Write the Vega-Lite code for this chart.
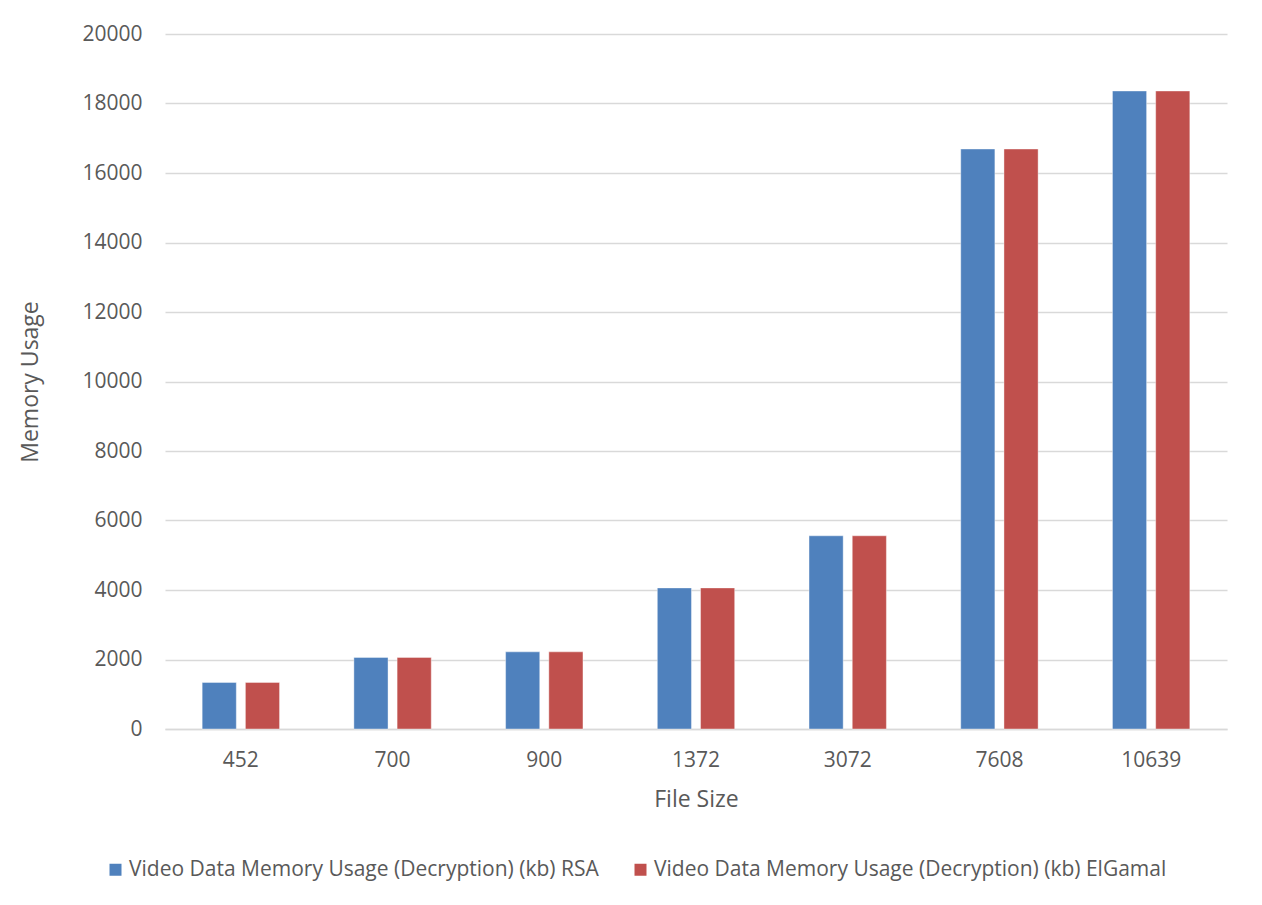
{
  "$schema": "https://vega.github.io/schema/vega-lite/v6.json",
  "width": 1062,
  "height": 695,
  "autosize": {"type": "none"},
  "padding": {"left": 165, "top": 34, "right": 35, "bottom": 176},
  "background": "white",
  "data": {
    "values": [
      {"size": "452", "series": "Video Data Memory Usage (Decryption) (kb) RSA", "memory": 1340},
      {"size": "452", "series": "Video Data Memory Usage (Decryption) (kb) ElGamal", "memory": 1340},
      {"size": "700", "series": "Video Data Memory Usage (Decryption) (kb) RSA", "memory": 2060},
      {"size": "700", "series": "Video Data Memory Usage (Decryption) (kb) ElGamal", "memory": 2060},
      {"size": "900", "series": "Video Data Memory Usage (Decryption) (kb) RSA", "memory": 2220},
      {"size": "900", "series": "Video Data Memory Usage (Decryption) (kb) ElGamal", "memory": 2220},
      {"size": "1372", "series": "Video Data Memory Usage (Decryption) (kb) RSA", "memory": 4060},
      {"size": "1372", "series": "Video Data Memory Usage (Decryption) (kb) ElGamal", "memory": 4060},
      {"size": "3072", "series": "Video Data Memory Usage (Decryption) (kb) RSA", "memory": 5560},
      {"size": "3072", "series": "Video Data Memory Usage (Decryption) (kb) ElGamal", "memory": 5560},
      {"size": "7608", "series": "Video Data Memory Usage (Decryption) (kb) RSA", "memory": 16690},
      {"size": "7608", "series": "Video Data Memory Usage (Decryption) (kb) ElGamal", "memory": 16690},
      {"size": "10639", "series": "Video Data Memory Usage (Decryption) (kb) RSA", "memory": 18360},
      {"size": "10639", "series": "Video Data Memory Usage (Decryption) (kb) ElGamal", "memory": 18360}
    ]
  },
  "mark": {"type": "bar", "stroke": "white", "strokeWidth": 0.8, "strokeOpacity": 0.5},
  "encoding": {
    "x": {
      "field": "size",
      "type": "nominal",
      "sort": null,
      "title": "File Size",
      "scale": {"paddingInner": 0.49, "paddingOuter": 0.245},
      "axis": {
        "labelAngle": 0,
        "ticks": false,
        "domainColor": "#d9d9d9",
        "domainWidth": 1.5,
        "labelPadding": 20,
        "titlePadding": 18
      }
    },
    "xOffset": {
      "field": "series",
      "type": "nominal",
      "sort": null,
      "scale": {"paddingInner": 0.21, "paddingOuter": 0}
    },
    "y": {
      "field": "memory",
      "type": "quantitative",
      "title": "Memory Usage",
      "scale": {"domain": [0, 20000], "nice": false},
      "axis": {
        "values": [0, 2000, 4000, 6000, 8000, 10000, 12000, 14000, 16000, 18000, 20000],
        "format": "d",
        "domain": false,
        "ticks": false,
        "grid": true,
        "gridColor": "#d9d9d9",
        "gridWidth": 1.5,
        "labelPadding": 23,
        "titlePadding": 39
      }
    },
    "color": {
      "field": "series",
      "type": "nominal",
      "sort": null,
      "scale": {"range": ["#4f81bd", "#c0504d"]},
      "legend": {
        "title": null,
        "orient": "none",
        "direction": "horizontal",
        "legendX": -60,
        "legendY": 825,
        "symbolType": "square",
        "symbolSize": 144,
        "symbolStrokeWidth": 0,
        "labelOffset": 3,
        "columnPadding": 31,
        "labelLimit": 700
      }
    }
  },
  "config": {
    "view": {"stroke": null},
    "font": "Open Sans",
    "axis": {
      "labelFont": "Open Sans",
      "labelFontSize": 21,
      "labelColor": "#595959",
      "titleFont": "Open Sans",
      "titleFontSize": 23,
      "titleFontWeight": "normal",
      "titleColor": "#595959"
    },
    "legend": {
      "labelFont": "Open Sans",
      "labelFontSize": 21,
      "labelColor": "#595959"
    }
  }
}
